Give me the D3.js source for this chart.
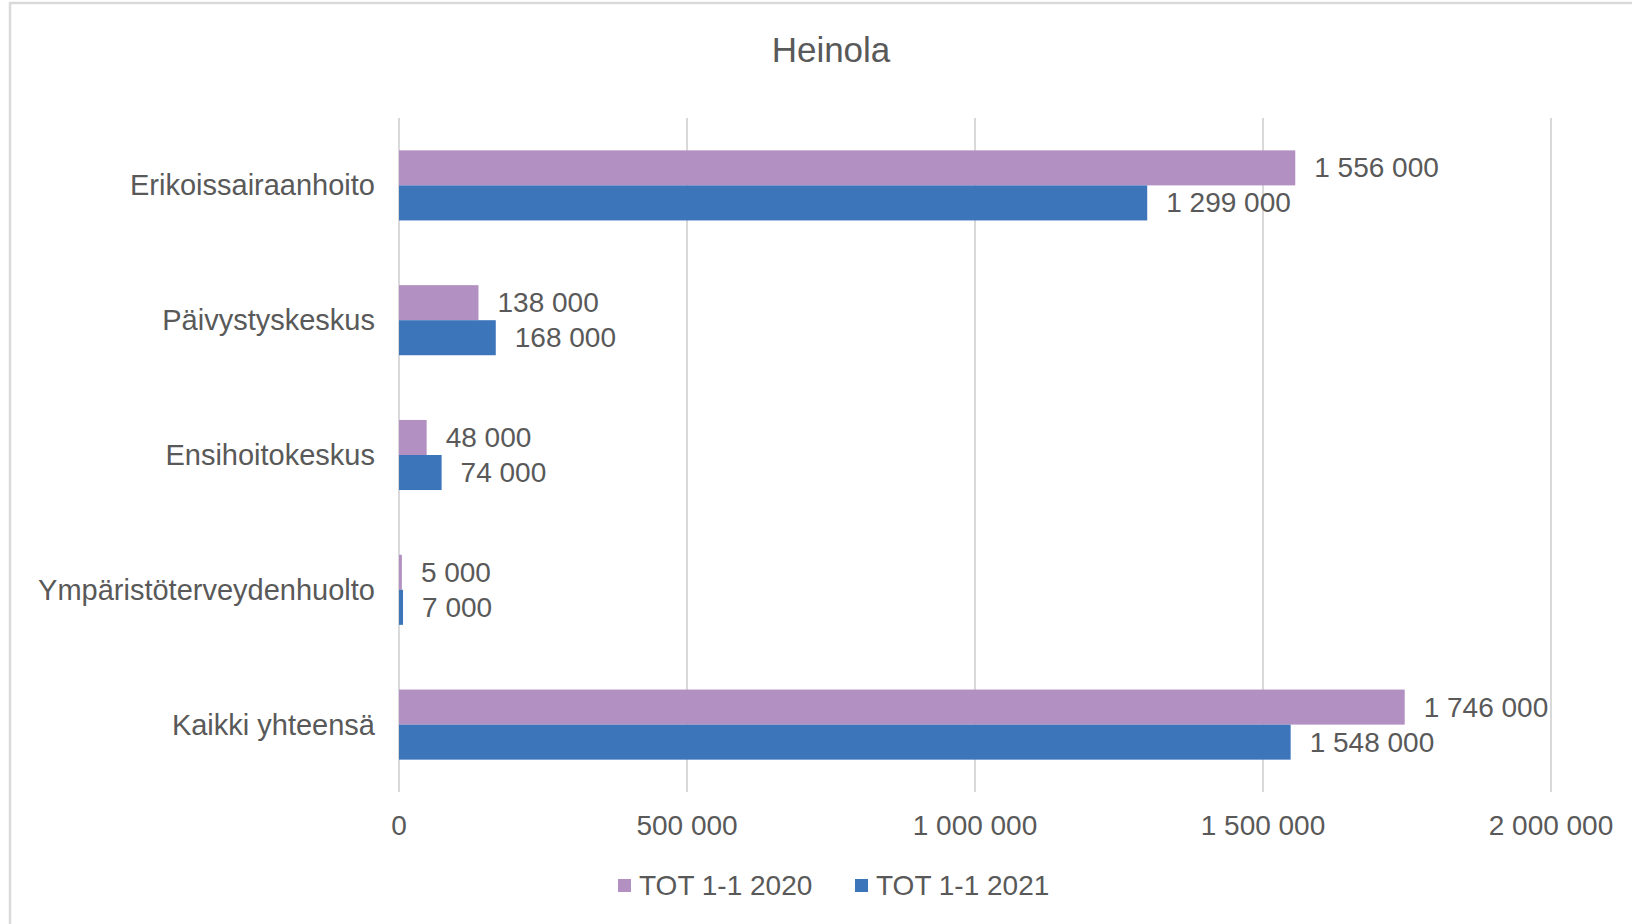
<!DOCTYPE html>
<html>
<head>
<meta charset="utf-8">
<script src="https://cdn.jsdelivr.net/npm/d3@7"></script>
<style>
  html, body { margin: 0; padding: 0; background: #fff; }
  svg { display: block; font-family: "Liberation Sans", Arial, sans-serif; }
</style>
</head>
<body>
<svg id="chart" width="1632" height="924"></svg>
<script>
// data
const categories = ["Erikoissairaanhoito", "Päivystyskeskus", "Ensihoitokeskus", "Ympäristöterveydenhuolto", "Kaikki yhteensä"];
const seriesNames = ["TOT 1-1 2020", "TOT 1-1 2021"];
const values2020 = [1556000, 138000, 48000, 5000, 1746000];
const values2021 = [1299000, 168000, 74000, 7000, 1548000];
const xTicks = [0, 500000, 1000000, 1500000, 2000000];

const colors = ["#b290c2", "#3d75bb"];
const textColor = "#595959";
const gridColor = "#d9d9d9";

const width = 1632, height = 924;
const plot = { left: 399, right: 1551, top: 118, bottom: 792 };

const svg = d3.select("#chart");

// chart frame
svg.append("rect")
  .attr("x", 10).attr("y", 3)
  .attr("width", width).attr("height", height)
  .attr("fill", "none")
  .attr("stroke", gridColor)
  .attr("stroke-width", 2.5);

// title
svg.append("text")
  .attr("x", 831).attr("y", 49)
  .attr("text-anchor", "middle")
  .attr("dominant-baseline", "central")
  .attr("fill", textColor)
  .style("font-size", "35px")
  .text("Heinola");

const x = d3.scaleLinear().domain([0, 2000000]).range([plot.left, plot.right]);
const y = d3.scaleBand().domain(categories).range([plot.top, plot.bottom])
  .paddingInner(0.48).paddingOuter(0.24);
const ySub = d3.scaleBand().domain([0, 1]).range([0, y.bandwidth()]);

const fmt = v => d3.format(",")(v).replace(/,/g, " ");

// gridlines
svg.append("g").selectAll("line")
  .data(xTicks).enter()
  .append("line")
  .attr("x1", d => x(d)).attr("x2", d => x(d))
  .attr("y1", plot.top).attr("y2", plot.bottom)
  .attr("stroke", gridColor)
  .attr("stroke-width", 2);

// x tick labels
svg.append("g").selectAll("text")
  .data(xTicks).enter()
  .append("text")
  .attr("x", d => x(d))
  .attr("y", 825)
  .attr("text-anchor", "middle")
  .attr("dominant-baseline", "central")
  .attr("fill", textColor)
  .style("font-size", "28px")
  .text(d => fmt(d));

// category labels
svg.append("g").selectAll("text")
  .data(categories).enter()
  .append("text")
  .attr("x", plot.left - 24)
  .attr("y", d => y(d) + y.bandwidth() / 2)
  .attr("text-anchor", "end")
  .attr("dominant-baseline", "central")
  .attr("fill", textColor)
  .style("font-size", "29px")
  .text(d => d);

// bars and value labels
const rows = [];
categories.forEach((c, i) => {
  rows.push({ cat: c, s: 0, value: values2020[i] });
  rows.push({ cat: c, s: 1, value: values2021[i] });
});

svg.append("g").selectAll("rect")
  .data(rows).enter()
  .append("rect")
  .attr("x", x(0))
  .attr("y", d => y(d.cat) + ySub(d.s))
  .attr("width", d => x(d.value) - x(0))
  .attr("height", ySub.bandwidth())
  .attr("fill", d => colors[d.s]);

svg.append("g").selectAll("text")
  .data(rows).enter()
  .append("text")
  .attr("x", d => x(d.value) + 19)
  .attr("y", d => y(d.cat) + ySub(d.s) + ySub.bandwidth() / 2)
  .attr("dominant-baseline", "central")
  .attr("fill", textColor)
  .style("font-size", "28px")
  .text(d => fmt(d.value));

// legend
const legendX = [618, 855];
const legend = svg.append("g").selectAll("g")
  .data(seriesNames).enter()
  .append("g")
  .attr("transform", (d, i) => `translate(${legendX[i]},885)`);
legend.append("rect")
  .attr("x", 0).attr("y", -6)
  .attr("width", 13).attr("height", 13)
  .attr("fill", (d, i) => colors[i]);
legend.append("text")
  .attr("x", 21).attr("y", 0)
  .attr("dominant-baseline", "central")
  .attr("fill", textColor)
  .style("font-size", "28px")
  .text(d => d);
</script>
</body>
</html>
